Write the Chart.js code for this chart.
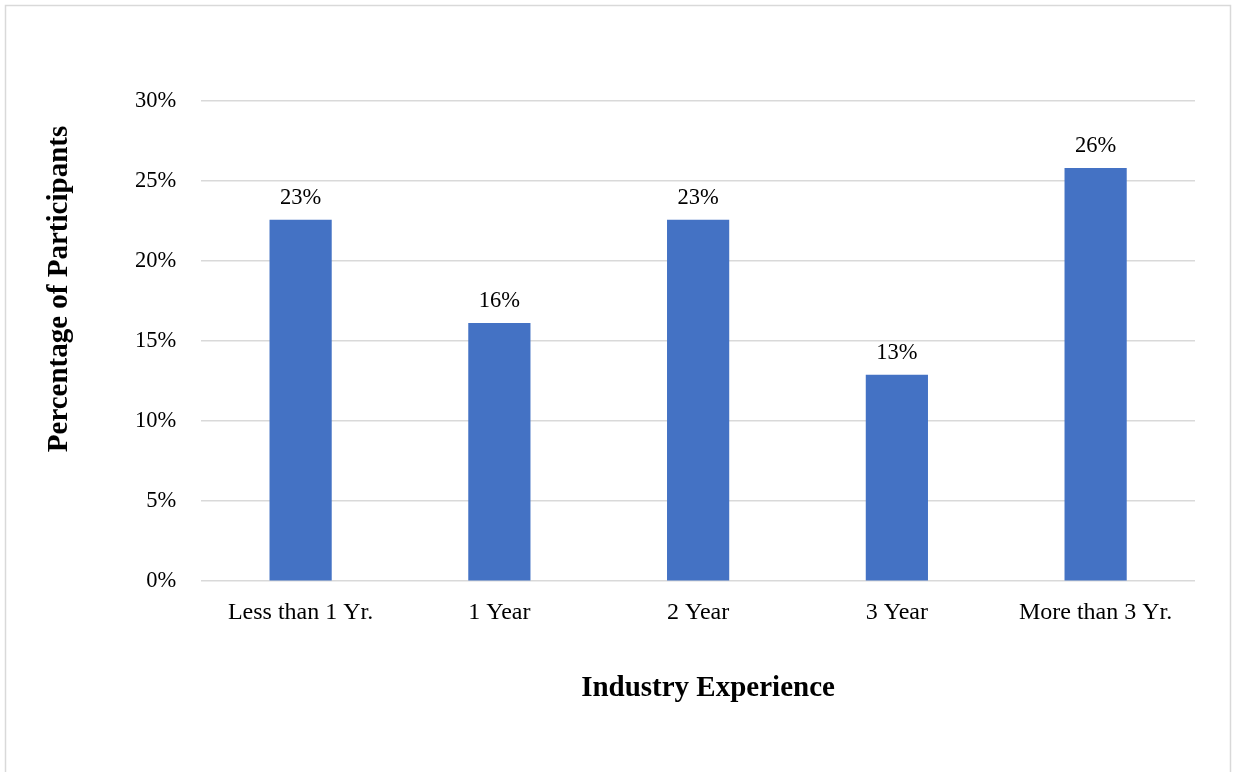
<!DOCTYPE html>
<html>
<head>
<meta charset="utf-8">
<script src="https://cdn.jsdelivr.net/npm/chart.js@4/dist/chart.umd.min.js"></script>
<style>
  html, body { margin: 0; padding: 0; background: #fff; }
  #wrap { width: 1233px; height: 772px; position: relative; }
</style>
</head>
<body>
<div id="wrap"><canvas id="expChart" width="1233" height="772"></canvas></div>
<script>
// ===== data =====
const categories = ['Less than 1 Yr.', '1 Year', '2 Year', '3 Year', 'More than 3 Yr.'];
const shares = [22.58, 16.13, 22.58, 12.90, 25.81];   // % of participants
const yTicks = [0, 5, 10, 15, 20, 25, 30];
const xTitle = 'Industry Experience';
const yTitle = 'Percentage of Participants';

const serif = '"Liberation Serif", "Times New Roman", serif';

// frame, axis titles and value labels
const decor = {
  id: 'decor',
  beforeDraw(chart) {
    const ctx = chart.ctx;
    ctx.save();
    ctx.strokeStyle = '#d9d9d9';
    ctx.lineWidth = 1.5;
    ctx.strokeRect(5.5, 5.5, 1225, 820);
    ctx.restore();
  },
  afterDatasetsDraw(chart) {
    const ctx = chart.ctx;
    const meta = chart.getDatasetMeta(0);
    ctx.save();
    ctx.fillStyle = '#000';
    ctx.font = '22.5px ' + serif;
    ctx.textAlign = 'center';
    ctx.textBaseline = 'alphabetic';
    meta.data.forEach((bar, i) => {
      ctx.fillText(shares[i].toFixed(0) + '%', bar.x, bar.y - 16);
    });

    ctx.font = 'bold 29px ' + serif;
    ctx.textBaseline = 'middle';
    ctx.fillText(xTitle, 708, 689);

    ctx.translate(60, 289);
    ctx.rotate(-Math.PI / 2);
    ctx.fillText(yTitle, 0, 0);
    ctx.restore();
  }
};

new Chart(document.getElementById('expChart'), {
  type: 'bar',
  data: {
    labels: categories,
    datasets: [{
      data: shares,
      backgroundColor: '#4472c4',
      borderWidth: 0,
      categoryPercentage: 1,
      barPercentage: 0.313
    }]
  },
  options: {
    responsive: false,
    animation: false,
    layout: { padding: { left: 110, right: 38, top: 101, bottom: 136 } },
    plugins: { legend: { display: false }, tooltip: { enabled: false } },
    scales: {
      x: {
        grid: { display: false },
        border: { display: false },
        ticks: { color: '#000', font: { family: serif, size: 24 }, padding: 9, maxRotation: 0 }
      },
      y: {
        min: 0,
        max: 30,
        afterBuildTicks(axis) { axis.ticks = yTicks.map(v => ({ value: v })); },
        grid: { color: '#d9d9d9', lineWidth: 1.5, drawTicks: false },
        border: { display: false },
        ticks: {
          color: '#000',
          font: { family: serif, size: 22.5 },
          padding: 25,
          callback: v => v + '%'
        }
      }
    }
  },
  plugins: [decor]
});
</script>
</body>
</html>
